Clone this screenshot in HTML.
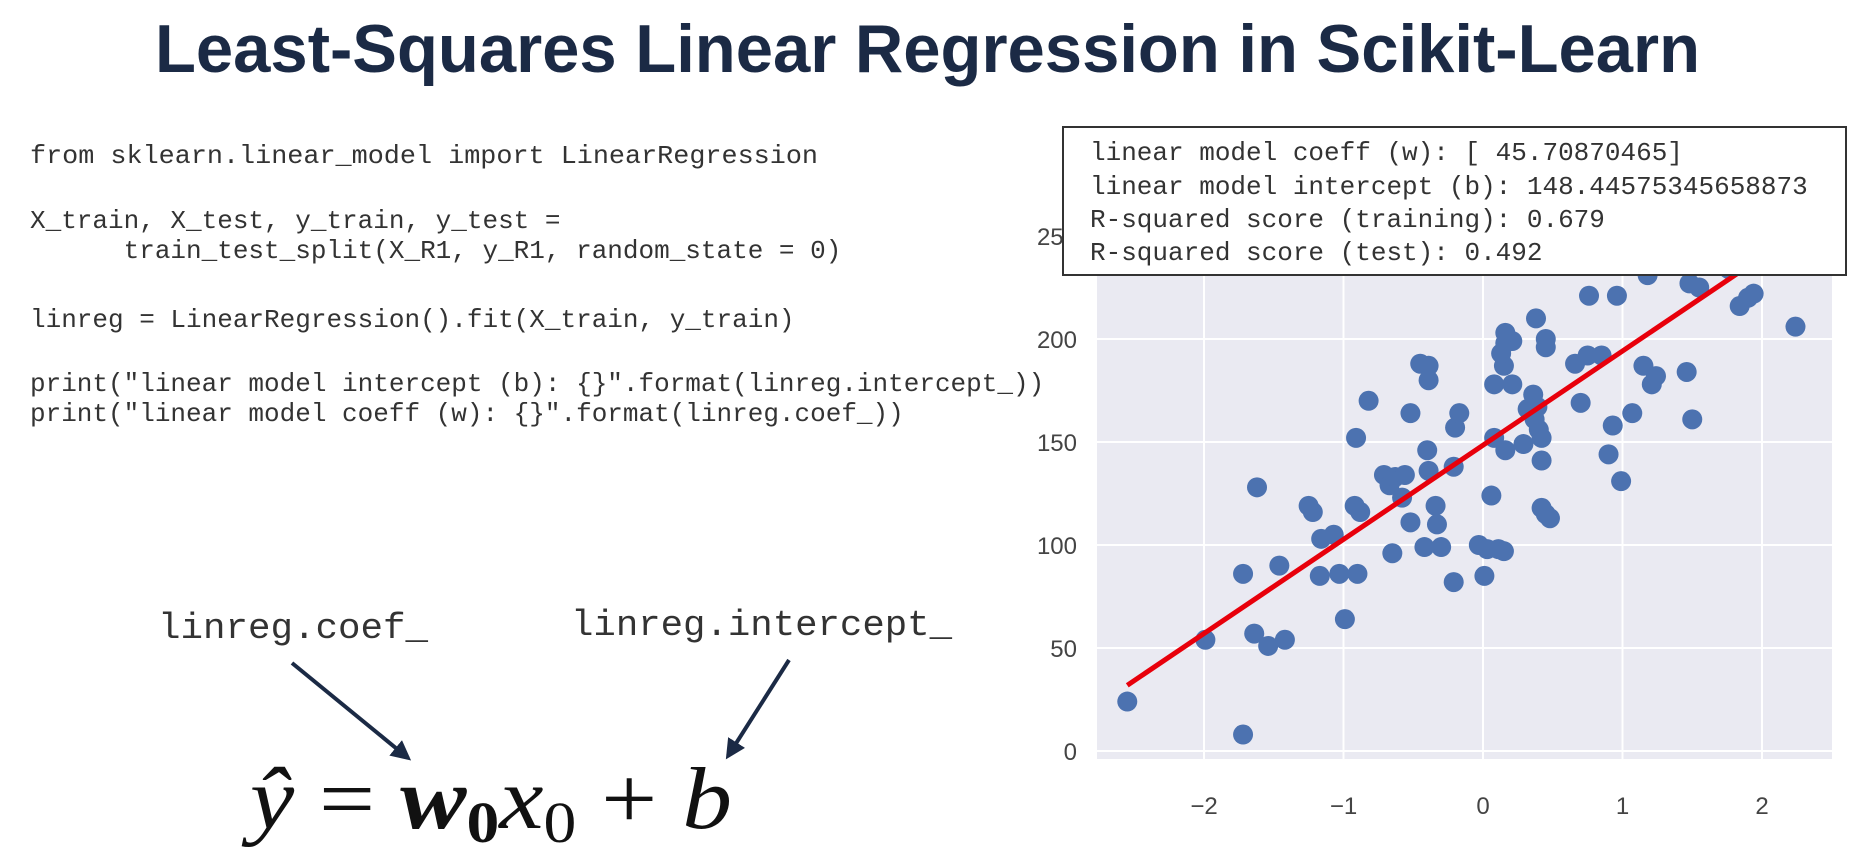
<!DOCTYPE html>
<html><head><meta charset="utf-8"><style>
html,body{margin:0;padding:0;background:#fff;width:1856px;height:862px;overflow:hidden}
svg{display:block}
.code{font-family:"Liberation Mono",monospace;font-size:26px;fill:#333;white-space:pre}
.tick{font-family:"Liberation Sans",sans-serif;font-size:24px;fill:#444}
</style></head><body>
<svg id="root" width="1856" height="862" viewBox="0 0 1856 862">
<text x="155" y="72" textLength="1545" lengthAdjust="spacingAndGlyphs" font-family="Liberation Sans, sans-serif" font-weight="bold" font-size="68" fill="#1b2a45">Least-Squares Linear Regression in Scikit-Learn</text>
<g>
<text class="code" x="30" y="163" textLength="788" lengthAdjust="spacingAndGlyphs">from sklearn.linear_model import LinearRegression</text>
<text class="code" x="30" y="228">X_train, X_test, y_train, y_test =</text>
<text class="code" x="30" y="258" xml:space="preserve">      train_test_split(X_R1, y_R1, random_state = 0)</text>
<text class="code" x="30" y="327">linreg = LinearRegression().fit(X_train, y_train)</text>
<text class="code" x="30" y="391">print("linear model intercept (b): {}".format(linreg.intercept_))</text>
<text class="code" x="30" y="421">print("linear model coeff (w): {}".format(linreg.coef_))</text>
</g>
<text x="158" y="638" textLength="270" lengthAdjust="spacingAndGlyphs" font-family="Liberation Mono,monospace" font-size="36" fill="#333">linreg.coef_</text>
<text x="571" y="635" textLength="381" lengthAdjust="spacingAndGlyphs" font-family="Liberation Mono,monospace" font-size="36" fill="#333">linreg.intercept_</text>
<defs><marker id="ah" viewBox="0 0 10 10" refX="8" refY="5" markerWidth="5" markerHeight="5" orient="auto"><path d="M0,0L10,5L0,10z" fill="#1b2a45"/></marker></defs>
<line x1="292" y1="663" x2="408" y2="758" stroke="#1b2a45" stroke-width="4" marker-end="url(#ah)"/>
<line x1="789" y1="660" x2="728" y2="756" stroke="#1b2a45" stroke-width="4" marker-end="url(#ah)"/>
<text x="250" y="828" textLength="482" lengthAdjust="spacingAndGlyphs" font-family="Liberation Serif, serif" font-size="88" fill="#111"><tspan font-style="italic">ŷ</tspan> = <tspan font-weight="bold" font-style="italic">w</tspan><tspan font-weight="bold" font-size="58" dy="14">0</tspan><tspan font-style="italic" dy="-14">x</tspan><tspan font-size="58" dy="14">0</tspan><tspan dy="-14"> + </tspan><tspan font-style="italic">b</tspan></text>
<g id="chart"></g>
<g>
<rect x="1063" y="127" width="783" height="148" fill="#fff" stroke="#333" stroke-width="2"/>
<text class="code" x="1090" y="160" fill="#444">linear model coeff (w): [ 45.70870465]</text>
<text class="code" x="1090" y="194">linear model intercept (b): 148.44575345658873</text>
<text class="code" x="1090" y="227">R-squared score (training): 0.679</text>
<text class="code" x="1090" y="260">R-squared score (test): 0.492</text>
</g>
</svg>
<script>
const xTicks=[-2,-1,0,1,2];
const yTicks=[0,50,100,150,200,250];
const xVals=[-2.55,-1.72,-1.99,-1.72,-1.62,-1.64,-1.54,-1.42,-1.46,-1.25,-1.22,-1.16,-1.17,-1.07,-1.03,-0.99,-0.90,-0.92,-0.88,-0.91,-0.82,-0.71,-0.67,-0.63,-0.65,-0.56,-0.58,-0.52,-0.52,-0.45,-0.39,-0.39,-0.40,-0.39,-0.34,-0.42,-0.30,-0.33,-0.21,-0.21,-0.20,-0.17,-0.03,0.01,0.03,0.06,0.08,0.11,0.15,0.08,0.15,0.13,0.16,0.21,0.16,0.21,0.16,0.29,0.32,0.37,0.36,0.39,0.42,0.42,0.40,0.38,0.45,0.45,0.42,0.45,0.48,0.70,0.66,0.75,0.85,0.76,0.96,0.93,0.99,0.90,1.07,1.15,1.21,1.24,1.18,1.46,1.50,1.48,1.55,1.84,1.90,1.94,2.24,1.76];
const yVals=[24,8,54,86,128,57,51,54,90,119,116,103,85,105,86,64,86,119,116,152,170,134,129,133,96,134,123,111,164,188,187,180,146,136,119,99,99,110,82,138,157,164,100,85,98,124,152,98,97,178,187,193,198,199,203,178,146,149,166,161,173,167,152,141,156,210,200,196,118,115,113,169,188,192,192,221,221,158,131,144,164,187,178,182,231,184,161,227,225,216,220,222,206,234];
const coef=45.70870465, intercept=148.44575345658873;
const L=1097,R=1832,T=200,B=759;
const X=v=>1483+139.5*v;
const Y=v=>751-2.06*v;
const NS='http://www.w3.org/2000/svg';
const g=document.getElementById('chart');
function mk(t,a){const e=document.createElementNS(NS,t);for(const k in a)e.setAttribute(k,a[k]);g.appendChild(e);return e;}
let e=mk('rect',{x:L,y:T,width:R-L,height:B-T,fill:'#eaeaf2'});


xTicks.forEach(t=>{
 let l=mk('line',{x1:X(t),x2:X(t),y1:T,y2:B,stroke:'#fff','stroke-width':2});
 
 
 let s=mk('text',{x:X(t),y:814,'text-anchor':'middle',class:'tick'});s.textContent=t<0?'\u2212'+(-t):t;
 
 
});
yTicks.forEach(t=>{
 let l=mk('line',{x1:L,x2:R,y1:Y(t),y2:Y(t),stroke:'#fff','stroke-width':2});
 
 
 let s=mk('text',{x:1077,y:Y(t)+9,'text-anchor':'end',class:'tick'});s.textContent=t;
 
 
});
xVals.forEach((v,i)=>{
 let c=mk('circle',{cx:X(v),cy:Y(yVals[i]),r:10,fill:'#4c72b0'});
 
 
});
const x0=Math.min(...xVals),x1=Math.max(...xVals);
let ln=mk('line',{x1:X(x0),y1:Y(intercept+coef*x0),x2:X(x1),y2:Y(intercept+coef*x1),stroke:'#e8000b','stroke-width':5});


</script>
</body></html>
